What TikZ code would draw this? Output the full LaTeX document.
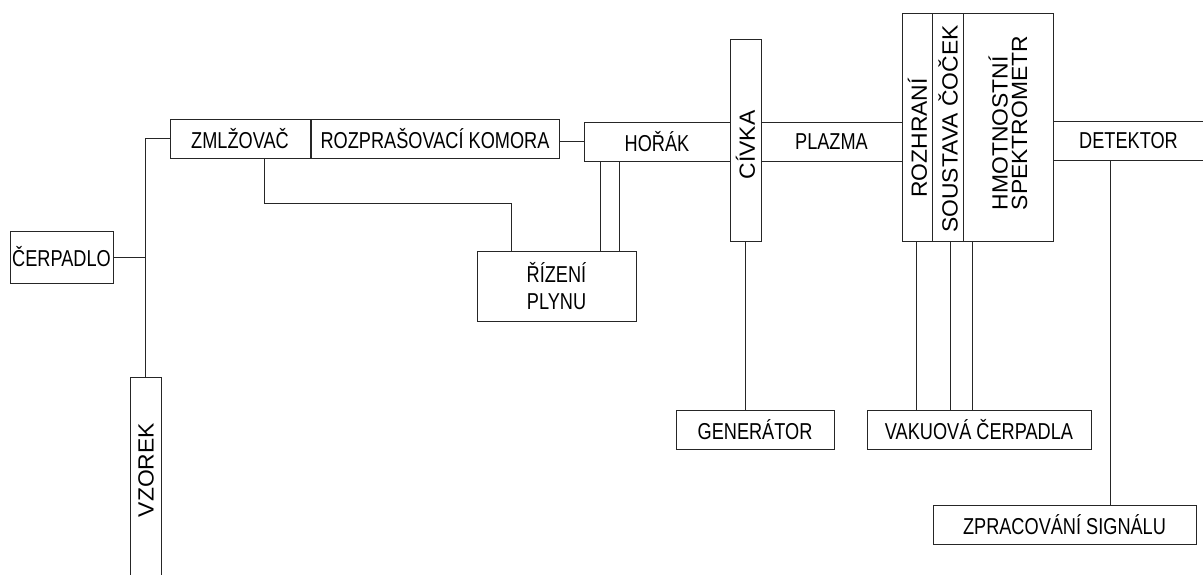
\documentclass[tikz,border=0pt]{standalone}
\usepackage{fontspec}
\setmainfont{Liberation Sans}
\newfontfamily\hfont[FakeStretch=0.79]{Liberation Sans}
\newfontfamily\vfont[FakeStretch=1.04]{Liberation Sans}
\begin{document}
\begin{tikzpicture}[x=1pt,y=-1pt,
  box/.style={draw=black!85, line width=0.9pt, inner sep=0pt, align=center,
    font=\hfont\fontsize{23}{27}\selectfont},
  vtext/.style={rotate=90, inner sep=0pt, align=left,
    font=\vfont\fontsize{22}{19.5}\selectfont},
  conn/.style={draw=black!85, line width=0.9pt}]
\useasboundingbox (0,0) rectangle (1203,574);
% boxes
\node[box, minimum width=103pt, minimum height=52pt] (cerp) at (61.5,257) {ČERPADLO};
\node[box, minimum width=140pt, minimum height=39pt] (zml) at (240,138.5) {ZMLŽOVAČ};
\node[box, minimum width=248pt, minimum height=39pt] (roz) at (435,138.5) {ROZPRAŠOVACÍ KOMORA};
\node[box, minimum width=146pt, minimum height=39pt] (hor) at (657,141.5) {HOŘÁK};
\node[box, minimum width=31pt, minimum height=202pt] (civ) at (745.5,140) {};
\node[box, minimum width=141pt, minimum height=39pt] (plz) at (831.5,141.5) {PLAZMA};
\node[box, minimum width=30pt, minimum height=228pt] (rozh) at (917,127) {};
\node[box, minimum width=31pt, minimum height=228pt] (sous) at (947.5,127) {};
\node[box, minimum width=90pt, minimum height=228pt] (hmot) at (1008,127) {};
\node[box, minimum width=151pt, minimum height=39pt] (det) at (1128.5,140.5) {DETEKTOR};
\node[box, minimum width=159pt, minimum height=70pt] (riz) at (556.5,286) {ŘÍZENÍ\\PLYNU};
\node[box, minimum width=158pt, minimum height=39pt] (gen) at (755,429.5) {GENERÁTOR};
\node[box, minimum width=224pt, minimum height=39pt] (vak) at (979,429.5) {VAKUOVÁ ČERPADLA};
\node[box, minimum width=263pt, minimum height=39pt] (zpr) at (1064.5,524.5) {ZPRACOVÁNÍ SIGNÁLU};
\node[box, minimum width=31pt, minimum height=213pt] (vz) at (145.5,483.5) {};
% rotated labels
\node[vtext] (vzT) at (146,470) {VZOREK};
\node[vtext] (civT) at (745.5,145) {CÍVKA};
\node[vtext] (rozhT) at (917.5,138) {ROZHRANÍ};
\node[vtext] (sousT) at (948,129) {SOUSTAVA ČOČEK};
\node[vtext] (hmotT) at (1008,123) {HMOTNOSTNÍ\\SPEKTROMETR};
% connectors
\draw[conn] (cerp.east) -- (cerp.east -| vz.north);
\draw[conn] (zml.west) -| (vz.north);
\draw[conn] (zml.south -| 264,0) |- (511,203) -- (riz.north -| 511,0);
\draw[conn] (roz.east |- hor.west) -- (hor.west);
\draw[conn] (hor.south -| 600,0) -- (riz.north -| 600,0);
\draw[conn] (hor.south -| 619,0) -- (riz.north -| 619,0);
\draw[conn] (civ.south) -- (gen.north -| civ.south);
\draw[conn] (rozh.south -| 916,0) -- (vak.north -| 916,0);
\draw[conn] (sous.south -| 950,0) -- (vak.north -| 950,0);
\draw[conn] (hmot.south -| 972,0) -- (vak.north -| 972,0);
\draw[conn] (det.south -| 1110,0) -- (zpr.north -| 1110,0);
\end{tikzpicture}
\end{document}
